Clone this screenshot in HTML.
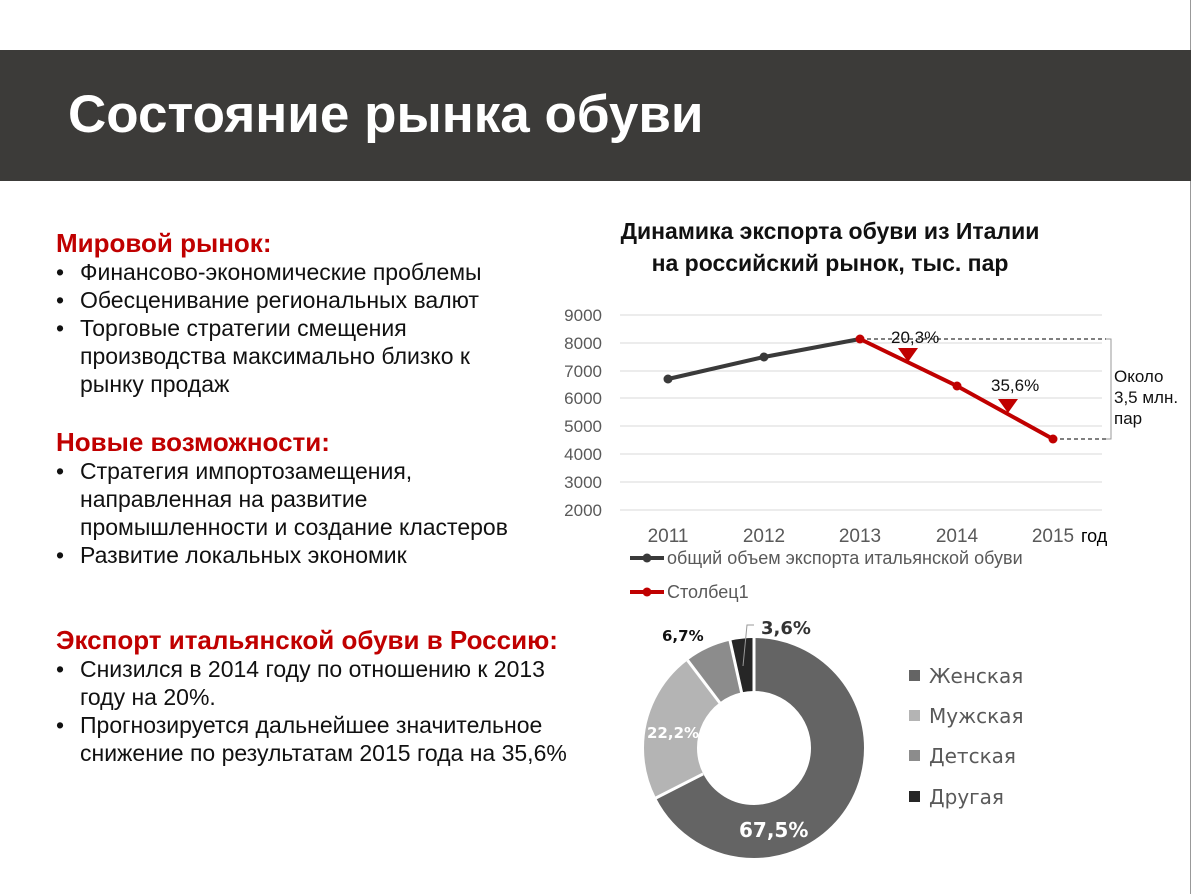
<!DOCTYPE html>
<html><head><meta charset="utf-8"><style>
body{margin:0;width:1191px;height:894px;background:#fff;position:relative;overflow:hidden;font-family:"Liberation Sans",sans-serif}
.bar{position:absolute;left:0;top:50px;width:1191px;height:131px;background:#3c3b39}
.title{position:absolute;left:68px;top:84px;color:#fff;font-size:53px;font-weight:bold;white-space:nowrap}
.txt{position:absolute;left:56px;color:#111;font-size:23px;line-height:28px;white-space:nowrap}
.h{color:#c00000;font-weight:bold;font-size:26px;line-height:30px}
ul{margin:0;padding:0;list-style:none}
li{position:relative;padding-left:24px}
li:before{content:"•";position:absolute;left:0}
.ct{position:absolute;left:530px;top:215px;width:600px;text-align:center;font-weight:bold;font-size:23px;line-height:32px;color:#111}
</style></head><body>
<div style="position:absolute;right:0;top:0;width:1px;height:894px;background:#999"></div>
<div class="bar"></div>
<div class="title">Состояние рынка обуви</div>
<div class="txt" style="top:228px"><div class="h">Мировой рынок:</div><ul><li>Финансово-экономические проблемы</li><li>Обесценивание региональных валют</li><li>Торговые стратегии смещения<br>производства максимально близко к<br>рынку продаж</li></ul></div>
<div class="txt" style="top:427px"><div class="h">Новые возможности:</div><ul><li>Стратегия импортозамещения,<br>направленная на развитие<br>промышленности и создание кластеров</li><li>Развитие локальных экономик</li></ul></div>
<div class="txt" style="top:625px"><div class="h">Экспорт итальянской обуви в Россию:</div><ul><li>Снизился в 2014 году по отношению к 2013<br>году на 20%.</li><li>Прогнозируется дальнейшее значительное<br>снижение по результатам 2015 года на 35,6%</li></ul></div>
<div class="ct">Динамика экспорта обуви из Италии<br>на российский рынок, тыс. пар</div>
<svg style="position:absolute;left:0;top:0" width="1191" height="894" font-family="Liberation Sans, sans-serif">
<g stroke="#d9d9d9" stroke-width="1">
<line x1="620" y1="315" x2="1102" y2="315"/><line x1="620" y1="343" x2="1102" y2="343"/><line x1="620" y1="371" x2="1102" y2="371"/><line x1="620" y1="398" x2="1102" y2="398"/><line x1="620" y1="426" x2="1102" y2="426"/><line x1="620" y1="454" x2="1102" y2="454"/><line x1="620" y1="482" x2="1102" y2="482"/><line x1="620" y1="510" x2="1102" y2="510"/></g>
<g font-size="17" fill="#595959" text-anchor="end">
<text x="602" y="321">9000</text><text x="602" y="349">8000</text><text x="602" y="377">7000</text><text x="602" y="404">6000</text><text x="602" y="432">5000</text><text x="602" y="460">4000</text><text x="602" y="488">3000</text><text x="602" y="516">2000</text></g>
<g font-size="19" fill="#595959" text-anchor="middle">
<text x="668" y="542">2011</text><text x="764" y="542">2012</text><text x="860" y="542">2013</text><text x="957" y="542">2014</text><text x="1053" y="542">2015</text></g>
<text x="1081" y="542" font-size="18" fill="#000">год</text>
<g stroke="#000" stroke-dasharray="4,3" stroke-width="1"><line x1="860" y1="339" x2="1110" y2="339"/><line x1="1053" y1="439" x2="1110" y2="439"/></g>
<polyline points="1106,339 1111,339 1111,439 1106,439" fill="none" stroke="#999"/>
<polyline points="668,379 764,357 860,339" fill="none" stroke="#3a3a3a" stroke-width="4"/>
<polyline points="860,339 957,386 1053,439" fill="none" stroke="#c00000" stroke-width="4"/>
<g fill="#3a3a3a"><circle cx="668" cy="379" r="4.5"/><circle cx="764" cy="357" r="4.5"/></g>
<g fill="#c00000"><circle cx="860" cy="339" r="4.5"/><circle cx="957" cy="386" r="4.5"/><circle cx="1053" cy="439" r="4.5"/>
<polygon points="898,348 918,348 908,362"/><polygon points="998,399 1018,399 1008,413"/></g>
<text x="891" y="343" font-size="17" fill="#111">20,3%</text>
<text x="991" y="391" font-size="17" fill="#111">35,6%</text>
<g font-size="17" fill="#111"><text x="1114" y="382">Около</text><text x="1114" y="403">3,5 млн.</text><text x="1114" y="424">пар</text></g>
<line x1="630" y1="558" x2="664" y2="558" stroke="#3a3a3a" stroke-width="4"/><circle cx="647" cy="558" r="4.5" fill="#3a3a3a"/>
<text x="667" y="564" font-size="18" fill="#595959">общий объем экспорта итальянской обуви</text>
<line x1="630" y1="592" x2="664" y2="592" stroke="#c00000" stroke-width="4"/><circle cx="647" cy="592" r="4.5" fill="#c00000"/>
<text x="667" y="598" font-size="18" fill="#595959">Столбец1</text>
<g transform="translate(754,748) rotate(-90)" fill="none" stroke-width="53">
<circle r="83.5" stroke="#646464" stroke-dasharray="354.1 1000" stroke-dashoffset="0"/>
<circle r="83.5" stroke="#b4b4b4" stroke-dasharray="116.5 1000" stroke-dashoffset="-354.1"/>
<circle r="83.5" stroke="#8c8c8c" stroke-dasharray="35.1 1000" stroke-dashoffset="-470.6"/>
<circle r="83.5" stroke="#262626" stroke-dasharray="18.9 1000" stroke-dashoffset="-505.7"/>
</g>
<g transform="translate(754,748)" stroke="#fff" stroke-width="3">
<line x1="0" y1="-55" x2="0" y2="-112"/>
<line x1="-50.9" y1="25.9" x2="-100.1" y2="51"/>
<line x1="-33.2" y1="-43.9" x2="-66.4" y2="-87.7"/>
<line x1="-12.2" y1="-54.6" x2="-24.4" y2="-109.3"/>
</g>
<polyline points="743,666 747,625 754,625" fill="none" stroke="#999"/>
<g font-weight="bold" font-family="DejaVu Sans, sans-serif">
<text x="662" y="641" font-size="15" fill="#111">6,7%</text>
<text x="761" y="634" font-size="18" fill="#333">3,6%</text>
<text x="647" y="738" font-size="15" fill="#fff">22,2%</text>
<text x="739" y="837" font-size="20" fill="#fff">67,5%</text></g>
<g font-size="20" fill="#595959" font-family="DejaVu Sans, sans-serif">
<rect x="909" y="670" width="11" height="11" fill="#646464"/><text x="929" y="683">Женская</text>
<rect x="909" y="710" width="11" height="11" fill="#b4b4b4"/><text x="929" y="723">Мужская</text>
<rect x="909" y="750" width="11" height="11" fill="#8c8c8c"/><text x="929" y="763">Детская</text>
<rect x="909" y="791" width="11" height="11" fill="#262626"/><text x="929" y="804">Другая</text></g>
</svg>
</body></html>
